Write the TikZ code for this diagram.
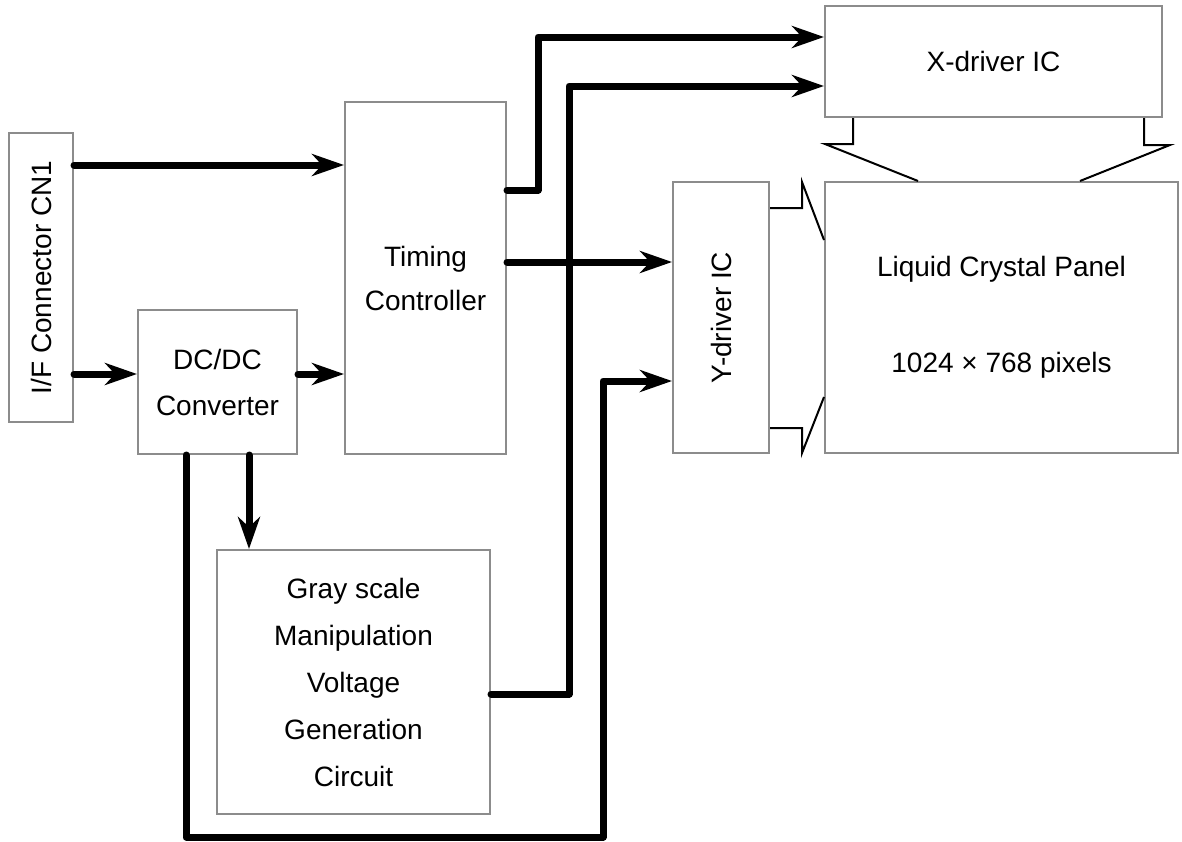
\documentclass[tikz,border=0pt]{standalone}
\usepackage{fontspec}
\setmainfont{Liberation Sans}
\usetikzlibrary{arrows.meta, calc}
\definecolor{boxgray}{HTML}{8C8C8C}
\tikzset{
  block/.style={draw=boxgray, line width=1pt, inner sep=0pt, align=center},
  bus/.style={-{Stealth[length=16pt, width=11pt, inset=5pt]}, line width=3.5pt, line cap=round, line join=round},
  wire/.style={line width=3.5pt, line cap=round, line join=round},
  fan/.style={line width=1pt, line join=miter},
  every node/.append style={font=\fontsize{14}{17}\selectfont}
}
\begin{document}
\begin{tikzpicture}[x=0.5pt, y=-0.5pt]
\useasboundingbox (0,0) rectangle (1182,841);
% blocks
\node[block, minimum width=32pt, minimum height=144.5pt] (ifconn) at (41,277.5) {\rotatebox{90}{I/F Connector CN1}};
\node[block, minimum width=79.5pt, minimum height=72pt] (dcdc) at (217.5,382) {DC/DC\\[6pt]Converter};
\node[block, minimum width=80.5pt, minimum height=176pt] (timing) at (425.5,278) {Timing\\[5pt]Controller};
\node[block, minimum width=168.5pt, minimum height=55.5pt] (xdrv) at (993.5,61.5) {X-driver IC};
\node[block, minimum width=48pt, minimum height=135.5pt] (ydrv) at (721,317.5) {\rotatebox{90}{Y-driver IC}};
\node[block, minimum width=176.5pt, minimum height=135.5pt] (panel) at (1001.5,317.5) {Liquid Crystal Panel\\[31pt]1024 × 768 pixels};
\node[block, minimum width=136.5pt, minimum height=132pt] (gray) at (353.5,682) {Gray scale\\[6.5pt]Manipulation\\[6.5pt]Voltage\\[6.5pt]Generation\\[6.5pt]Circuit};
% signal buses
\draw[bus] (ifconn.east |- 0,165) -- (timing.west |- 0,165);
\draw[bus] (ifconn.east |- 0,374) -- (dcdc.west |- 0,374);
\draw[bus] (dcdc.east |- 0,374) -- (timing.west |- 0,374);
\draw[bus] (timing.east |- 0,190) -| (538,37) -- (xdrv.west |- 0,37);
\draw[bus] (gray.east |- 0,694) -| (569,86) -- (xdrv.west |- 0,86);
\draw[bus] (timing.east |- 0,262) -- (ydrv.west |- 0,262);
\draw[bus] (dcdc.south -| 249,0) -- (gray.north -| 249,0);
\draw[bus] (dcdc.south -| 186,0) |- (603,837) |- (ydrv.west |- 0,381);
% driver outputs to panel
\draw[fan] (xdrv.south -| 853,0) |- (825,144) -- (panel.north -| 918,0);
\draw[fan] (xdrv.south -| 1144,0) |- (1170,145) -- (panel.north -| 1080,0);
\draw[fan] (ydrv.east |- 0,208) -| (802,182) -- (panel.west |- 0,240);
\draw[fan] (ydrv.east |- 0,428) -| (802,453) -- (panel.west |- 0,397);
\end{tikzpicture}
\end{document}
